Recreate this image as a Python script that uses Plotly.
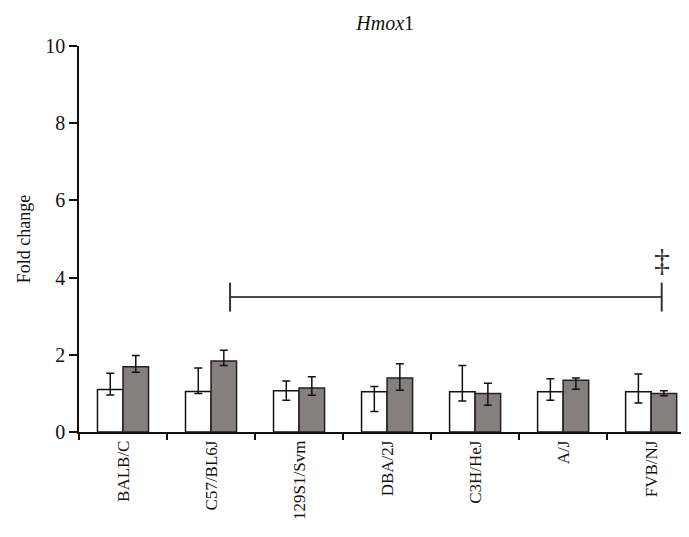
import plotly.graph_objects as go

strains = ["BALB/C", "C57/BL6J", "129S1/Svm", "DBA/2J", "C3H/HeJ", "A/J", "FVB/NJ"]
control_vals = [1.10, 1.05, 1.07, 1.04, 1.04, 1.04, 1.04]
control_err_up = [0.42, 0.61, 0.25, 0.14, 0.68, 0.34, 0.46]
control_err_down = [0.14, 0.05, 0.25, 0.51, 0.24, 0.22, 0.29]
treated_vals = [1.69, 1.84, 1.14, 1.40, 1.00, 1.34, 1.00]
treated_err_up = [0.29, 0.28, 0.29, 0.37, 0.26, 0.06, 0.07]
treated_err_down = [0.14, 0.12, 0.19, 0.32, 0.31, 0.23, 0.06]
y_ticks = [0, 2, 4, 6, 8, 10]

sig_start = 1.216
sig_end = 6.12
sig_level = 3.5
sig_cap_low = 3.12
sig_cap_high = 3.87
sig_symbol = "‡"
sig_symbol_y = 4.46

FONT = "Liberation Serif"

fig = go.Figure()
fig.add_trace(go.Bar(
    x=strains, y=control_vals,
    marker=dict(color="white", line=dict(color="#111111", width=1.5)),
    error_y=dict(type="data", symmetric=False, array=control_err_up,
                 arrayminus=control_err_down, color="#111111", thickness=1.5, width=4),
    showlegend=False,
))
fig.add_trace(go.Bar(
    x=strains, y=treated_vals,
    marker=dict(color="#857f7d", line=dict(color="#222222", width=1.5)),
    error_y=dict(type="data", symmetric=False, array=treated_err_up,
                 arrayminus=treated_err_down, color="#111111", thickness=1.5, width=4),
    showlegend=False,
))

line_style = dict(color="#111111", width=1.5)
fig.add_shape(type="line", xref="x", yref="y", x0=sig_start, x1=sig_end,
              y0=sig_level, y1=sig_level, line=line_style)
fig.add_shape(type="line", xref="x", yref="y", x0=sig_start, x1=sig_start,
              y0=sig_cap_low, y1=sig_cap_high, line=dict(color="#333333", width=2))
fig.add_shape(type="line", xref="x", yref="y", x0=sig_end, x1=sig_end,
              y0=sig_cap_low, y1=sig_cap_high, line=dict(color="#333333", width=2))
fig.add_annotation(x=sig_end, y=sig_symbol_y, xref="x", yref="y", text=sig_symbol,
                   showarrow=False, font=dict(family=FONT, size=32, color="#333333"))

fig.update_layout(
    width=681, height=529,
    margin=dict(l=71, r=0, t=38, b=105),
    paper_bgcolor="white", plot_bgcolor="white",
    barmode="group", bargap=0.42, bargroupgap=0,
    font=dict(family=FONT, color="#111111", size=17),
    title=dict(text="<i>Hmox</i>1", x=0.502, xref="paper", y=0.972, yref="container",
               xanchor="center", yanchor="middle",
               font=dict(family=FONT, size=20, color="#111111")),
    xaxis=dict(
        range=[-0.5, 6.43], showline=True, linecolor="#111111", linewidth=1.5,
        ticks="outside", tickson="boundaries", ticklen=6, tickcolor="#111111",
        tickwidth=1.5, tickangle=-90, showgrid=False, zeroline=False,
        tickfont=dict(family=FONT, size=17, color="#111111"),
    ),
    yaxis=dict(
        range=[0, 10], tickvals=y_ticks, showline=True, linecolor="#111111",
        linewidth=1.5, ticks="outside", ticklen=8, tickcolor="#111111", tickwidth=1.5,
        showgrid=False, zeroline=False,
        tickfont=dict(family=FONT, size=20, color="#111111"),
        title=dict(text="Fold change", font=dict(family=FONT, size=18, color="#111111"),
                   standoff=10),
    ),
)

fig.write_html("out.html")
